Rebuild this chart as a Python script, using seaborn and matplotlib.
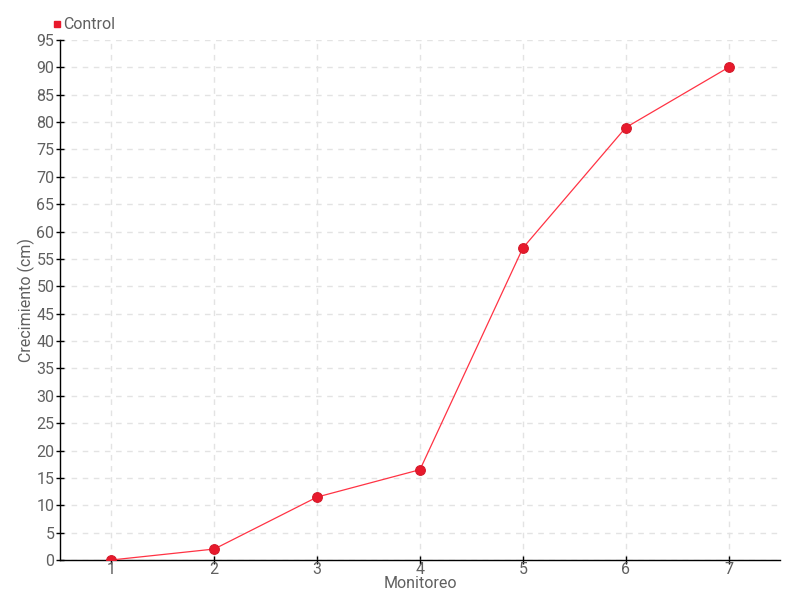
import matplotlib
matplotlib.use("Agg")
import matplotlib.pyplot as plt
from matplotlib.lines import Line2D
import seaborn as sns
import pandas as pd

monitoreo = [1, 2, 3, 4, 5, 6, 7]
crecimiento = [0, 2, 11.5, 16.5, 57, 79, 90]
serie = "Control"
y_ticks = list(range(0, 100, 5))

df = pd.DataFrame({"Monitoreo": monitoreo, "Crecimiento (cm)": crecimiento})

sns.set_theme(style="white")
plt.rcParams["font.family"] = ["Roboto", "DejaVu Sans"]

text_color = "#606060"
fig = plt.figure(figsize=(8, 6), dpi=100)
ax = fig.add_axes([0.075, 0.0667, 0.9, 0.8666])

sns.lineplot(data=df, x="Monitoreo", y="Crecimiento (cm)", ax=ax, color="#ff3344",
             linewidth=0.9, marker="o", markersize=7, markerfacecolor="#e8192c",
             markeredgecolor="#d41a2a", markeredgewidth=0.8, zorder=3)

ax.set_xlim(0.5, 7.5)
ax.set_ylim(0, 95)
ax.set_xticks(monitoreo)
ax.set_yticks(y_ticks)
ax.grid(True, color="#e3e3e3", linestyle=(0, (4, 4)), linewidth=1)
for s in ["top", "right"]:
    ax.spines[s].set_visible(False)
for s in ["left", "bottom"]:
    ax.spines[s].set_color("black")
    ax.spines[s].set_linewidth(1)
ax.tick_params(axis="both", direction="inout", length=6, width=1, color="black",
               labelcolor=text_color, labelsize=11.5, left=True, bottom=True, pad=1)
ax.tick_params(axis="x", pad=-1.5)
ax.set_xlabel("Monitoreo", color=text_color, fontsize=11.5, labelpad=-1)
ax.set_ylabel("Crecimiento (cm)", color=text_color, fontsize=11.5, labelpad=1)

handle = Line2D([], [], marker="s", linestyle="none", color="#e8192c", markersize=5)
fig.legend([handle], [serie], loc="upper left", bbox_to_anchor=(0.045, 0.995),
           frameon=False, handletextpad=0.0, fontsize=11.5, labelcolor=text_color,
           handlelength=0.8)

fig.savefig("out.png", dpi=100)
